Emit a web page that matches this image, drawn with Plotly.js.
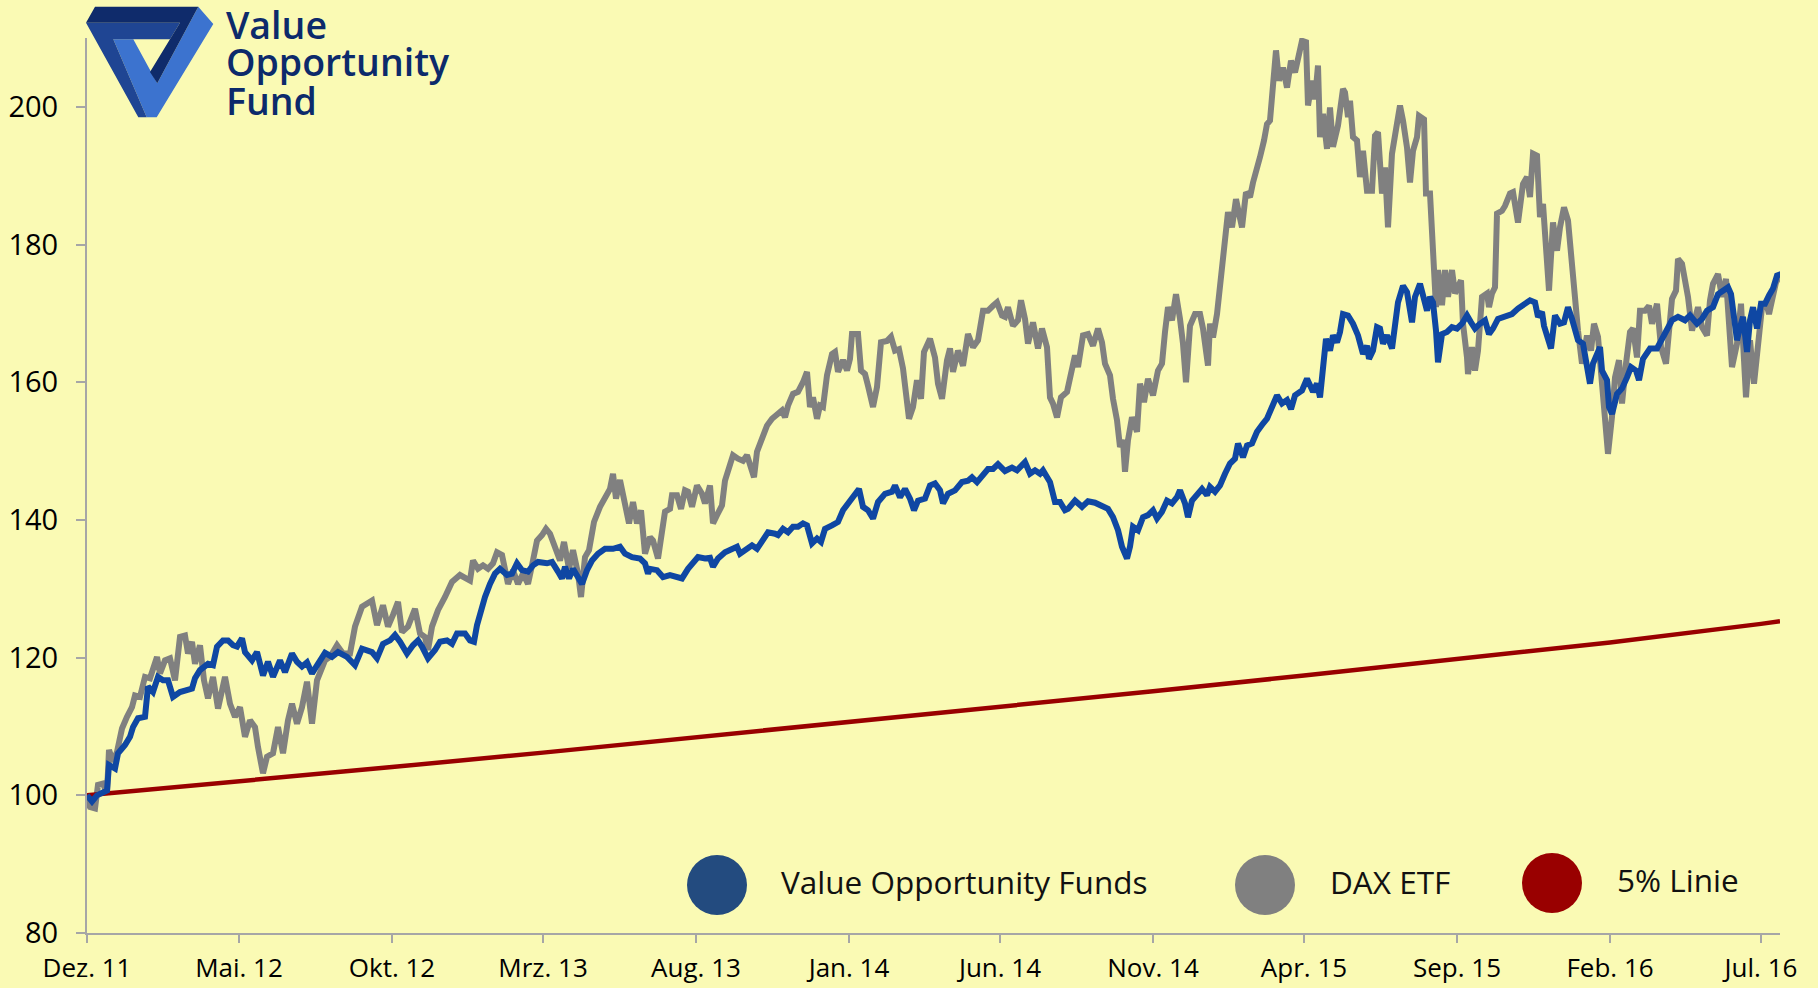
<!DOCTYPE html>
<html>
<head>
<meta charset="utf-8">
<script src="https://cdn.plot.ly/plotly-3.0.1.min.js"></script>
<style>
  html, body { margin: 0; padding: 0; background: #fafab4; }
  #chart { width: 1818px; height: 988px; }
</style>
</head>
<body>
<div id="chart"></div>
<script>
// ---- DATA (day offsets counted from the start date 2011-12-01) ----
const startDate = '2011-12-01';

const fundDays = [0,5,10,14,20,22,28,31,38,43,46,51,58,61,66,71,76,81,86,93,100,105,108,113,121,126,130,136,141,146,150,155,158,165,170,176,181,186,193,198,205,210,215,220,225,231,238,245,251,260,268,275,
285,290,296,303,308,313,320,326,331,335,341,348,353,360,365,370,378,383,387,390,395,398,403,408,413,420,425,430,435,441,446,451,460,465,471,475,478,482,486,491,495,500,505,511,518,526,533,538,545,553,558,561,
563,570,576,583,590,595,601,606,611,618,623,626,631,638,645,650,653,660,665,670,676,681,688,691,696,701,706,711,716,720,725,730,734,738,745,751,756,763,768,772,776,781,786,791,798,805,808,813,818,823,827,831,838,843,
848,853,856,861,868,875,881,885,890,896,901,906,911,918,925,930,938,943,948,953,956,963,968,973,978,981,988,995,1001,1008,1015,1021,1026,1031,1035,1040,1043,1046,1051,1056,1061,1066,1070,1075,1080,1085,1090,1093,1098,1101,1105,1110,1115,1120,1123,1128,
1133,1138,1143,1148,1151,1156,1160,1165,1170,1176,1180,1185,1190,1195,1200,1204,1208,1215,1220,1226,1230,1233,1236,1239,1243,1246,1250,1253,1256,1261,1266,1271,1276,1280,1282,1286,1290,1293,1296,1300,1305,1308,1311,1316,1320,1325,1328,1333,1337,1340,1343,1346,1349,1351,1355,1360,1365,1370,1375,1380,1384,1388,1393,1398,1402,1406,1411,1416,
1425,1431,1438,1443,1448,1451,1455,1457,1461,1464,1468,1473,1477,1481,1485,1488,1491,1496,1500,1503,1506,1510,1513,1515,1520,1522,1525,1530,1535,1540,1544,1549,1552,1556,1563,1570,1575,1580,1585,1591,1598,1603,1610,1615,1620,1626,1631,1636,1641,1644,1647,1650,1653,1656,1660,1663,1666,1670,1674,1678,1682,1686,1690,1694];

const fundValues = [100.0,99.1,100.0,100.3,100.7,104.4,103.9,106.1,107.3,108.5,109.9,111.2,111.4,115.8,115.0,117.2,116.7,116.7,114.3,115.0,115.3,115.5,117.0,118.2,119.1,118.9,121.6,122.5,122.5,121.8,121.6,122.8,120.8,119.6,120.8,117.4,119.4,117.2,119.6,117.9,120.6,119.4,118.7,119.3,117.7,119.1,120.7,120.1,120.8,120.1,118.9,121.3,
120.8,119.9,122.0,122.5,123.3,122.3,120.6,121.8,122.5,121.6,119.9,121.1,122.3,122.5,122.0,123.5,123.5,122.5,122.3,124.7,127.4,128.8,130.7,132.2,132.9,132.0,132.2,133.7,132.7,132.5,133.4,133.9,133.7,133.9,132.5,131.5,133.2,131.5,132.9,131.7,130.7,132.7,134.1,135.1,135.8,135.8,136.1,135.1,134.6,134.4,133.7,132.2,
132.9,132.7,131.7,132.0,131.7,131.5,132.9,133.9,134.6,134.4,134.5,133.2,134.4,135.3,135.8,136.1,135.1,135.8,136.3,135.8,137.0,138.2,138.0,137.8,138.7,138.2,139.0,139.0,139.5,139.2,136.6,137.3,136.8,138.7,139.2,139.7,141.4,142.8,143.6,144.5,141.9,141.4,140.2,142.6,143.8,144.1,145.0,143.3,144.5,143.1,141.4,142.8,143.1,145.0,
145.3,144.3,142.4,143.8,144.3,145.5,145.7,146.2,145.5,146.5,147.4,147.4,148.1,147.1,147.6,147.2,148.4,146.7,147.2,146.7,147.2,145.5,142.6,142.6,141.4,141.6,142.8,141.9,142.7,142.5,142.1,141.6,140.4,138.5,136.1,134.4,136.1,139.0,138.5,140.4,140.7,141.4,140.2,141.2,142.8,142.4,143.3,144.3,142.4,140.4,142.8,143.6,144.5,143.6,144.8,144.1,
145.0,146.7,148.2,148.9,151.1,149.1,150.8,151.1,152.8,154.0,154.7,156.4,158.1,156.9,157.4,156.1,158.1,158.8,160.5,158.6,159.8,157.8,161.2,166.3,164.6,166.8,165.8,167.3,169.9,169.7,168.5,166.8,164.1,165.3,163.4,164.6,168.0,167.8,165.6,166.8,164.9,168.5,171.6,174.0,173.1,168.7,172.4,174.3,172.4,170.4,172.4,171.6,167.5,162.9,167.0,167.3,168.0,167.8,168.5,169.7,168.7,167.8,168.5,169.0,167.0,167.8,169.2,169.5,
169.9,170.7,171.4,171.9,171.6,169.5,170.2,168.2,166.3,164.9,169.7,168.5,168.7,170.9,169.2,167.5,166.1,165.6,161.7,159.8,162.7,163.9,165.1,161.7,160.3,156.4,155.4,158.3,159.1,160.7,162.2,161.7,160.3,163.4,164.9,164.9,166.3,167.3,169.0,169.5,169.0,169.7,168.5,169.2,170.4,170.9,172.8,173.3,173.8,172.8,168.5,166.1,168.0,169.5,164.4,169.0,170.9,167.8,171.4,171.4,172.6,173.6,175.5,175.7];

const daxDays = [0,3,8,11,16,20,22,26,30,35,40,45,48,53,58,63,70,73,78,83,88,93,98,101,105,108,113,117,121,126,131,138,143,148,153,158,163,168,171,176,180,186,191,196,201,205,210,215,220,225,230,235,238,243,250,256,263,268,275,
285,290,296,301,306,311,315,321,328,333,338,341,345,351,358,365,373,378,383,386,391,396,401,406,410,415,418,421,426,431,436,441,445,450,455,459,463,468,473,477,482,486,491,494,498,502,507,513,518,523,526,529,533,537,542,546,550,554,558,
563,566,571,575,578,583,585,590,594,598,601,605,610,615,618,623,626,630,635,638,643,646,651,656,660,663,667,670,675,680,685,690,695,698,701,706,711,716,720,723,726,730,733,736,740,745,748,751,756,760,763,765,771,774,778,781,786,790,794,800,804,808,812,816,819,822,826,830,834,837,843,
848,851,855,860,863,866,871,876,881,886,891,896,901,906,910,915,918,921,926,931,934,938,941,946,951,955,960,963,966,970,974,980,983,988,991,996,1001,1006,1011,1015,1018,1023,1026,1030,1033,1036,1038,1041,1045,1050,1053,1057,1061,1066,1071,1075,1078,1081,1085,1089,1093,1096,1099,1103,1108,1113,1116,1121,1123,1126,1130,
1133,1136,1138,1141,1145,1149,1152,1155,1159,1163,1166,1170,1173,1177,1180,1183,1186,1189,1192,1196,1200,1204,1208,1211,1215,1219,1221,1225,1228,1231,1233,1236,1240,1243,1246,1251,1256,1258,1261,1263,1266,1270,1273,1276,1280,1285,1288,1291,1295,1298,1301,1305,1310,1313,1316,1320,1323,1326,1330,1332,1337,1339,1343,1346,1349,1351,1355,1358,1361,1365,1368,1374,1376,1380,1381,1385,1388,1391,1395,1400,1402,1405,1408,1410,1415,
1418,1423,1426,1431,1436,1440,1443,1446,1450,1453,1456,1460,1462,1466,1470,1473,1477,1481,1485,1488,1491,1495,1500,1504,1507,1511,1514,1518,1521,1525,1528,1532,1535,1539,1543,1546,1550,1553,1558,1562,1565,1570,1574,1579,1582,1585,1589,1591,1595,1598,1601,1605,1608,1611,1615,1620,1623,1626,1631,1635,1639,1642,1645,1650,1654,1659,1663,1667,1671,1675,1679,1682,1685,1689,1693];

const daxValues = [99.3,98.3,98.1,101.5,101.7,100.3,106.6,104.9,106.3,109.7,111.4,112.8,114.5,114.3,117.2,117.0,120.1,117.7,119.6,119.9,116.7,123.0,123.2,120.6,122.3,119.1,121.8,116.7,114.1,117.2,112.6,117.2,113.3,111.4,112.8,108.5,110.9,109.9,107.0,103.2,105.6,106.1,109.9,106.1,110.9,113.3,110.4,112.8,116.5,110.4,116.7,118.7,119.6,120.1,121.8,120.6,120.6,124.5,127.4,
128.3,124.7,127.6,124.5,126.2,128.1,123.7,124.5,127.1,123.5,123.0,121.1,124.5,126.9,128.8,131.0,132.0,131.5,131.2,134.1,132.9,133.4,132.9,133.7,135.3,134.9,133.2,130.7,132.7,130.7,132.2,130.7,133.4,137.0,137.8,138.7,138.0,136.1,134.1,136.8,132.9,135.6,132.2,128.8,134.6,135.6,139.7,141.9,143.1,144.5,146.7,143.1,145.8,143.3,139.5,142.6,139.5,141.4,135.1,
137.5,137.0,134.4,138.5,141.2,141.6,143.6,143.6,141.6,144.3,144.1,141.9,145.0,143.8,142.4,145.0,139.5,140.7,142.1,145.7,147.7,149.4,148.9,148.6,149.4,147.7,146.2,149.9,151.8,153.7,154.7,155.2,155.9,154.9,156.6,158.3,158.6,160.0,161.5,156.4,157.8,154.7,156.6,156.4,161.0,164.1,164.4,161.5,163.2,161.7,163.4,167.0,167.0,161.7,161.2,159.5,156.4,159.3,165.8,166.0,166.6,164.6,164.8,162.0,158.8,154.7,156.4,160.3,157.6,164.4,166.3,
163.6,159.8,157.6,163.2,164.9,161.5,164.6,162.4,167.0,165.1,166.1,170.4,170.4,171.1,171.6,169.7,169.5,170.9,168.2,169.0,171.9,169.2,165.6,168.7,164.9,167.8,165.1,157.8,156.9,154.9,157.8,158.6,161.0,163.9,162.2,166.8,167.0,165.3,167.8,165.8,162.7,161.0,157.6,154.5,150.6,151.6,147.0,151.6,154.9,152.8,159.8,157.1,160.5,158.1,161.7,162.7,167.3,170.9,169.0,172.8,169.2,165.6,160.0,168.2,169.9,169.9,167.8,162.4,168.5,166.5,169.9,
174.3,177.2,182.0,184.7,182.5,186.6,184.5,182.5,187.6,186.9,189.0,191.7,192.7,195.1,197.5,198.0,202.4,208.2,203.8,205.7,202.8,206.7,205.0,207.4,209.6,209.4,200.2,203.8,201.1,206.0,195.6,199.0,193.9,199.9,194.2,197.3,202.6,202.1,198.5,200.9,195.6,195.1,189.8,193.6,187.8,187.8,195.8,196.3,187.4,191.2,182.5,193.2,198.2,200.2,198.0,194.1,189.0,193.6,195.6,198.7,198.2,187.4,187.4,178.2,170.9,176.3,171.2,176.3,172.4,176.3,172.9,174.8,168.5,163.6,161.2,165.1,161.7,164.6,172.4,172.9,170.9,172.9,173.8,184.5,184.9,
185.6,187.4,187.6,183.2,188.8,189.8,186.9,193.2,192.9,184.0,185.9,179.1,173.3,183.2,179.1,182.5,185.4,183.5,176.7,170.4,167.5,162.7,166.8,164.6,168.5,166.6,160.7,153.5,149.6,155.0,160.7,163.2,156.9,162.7,167.3,167.8,163.6,170.4,170.4,171.1,168.5,171.4,165.1,162.7,168.0,172.1,173.3,177.9,177.2,175.0,172.4,167.5,169.5,170.9,168.0,166.8,171.9,174.3,175.7,172.4,175.0,168.5,162.2,165.6,171.4,157.8,166.1,159.8,166.6,170.9,171.6,169.9,171.9,174.5,175.5];

// 5% line, read at each tick month and at the end of the axis
const lineDays = [0,152,305,456,609,762,913,1066,1217,1370,1523,1674,1693];
const lineValues = [100.0,102.0,104.1,106.2,108.4,110.6,112.8,115.1,117.4,119.8,122.2,124.9,125.3];

const tickDays = [0,152,305,456,609,762,913,1066,1217,1370,1523,1674];
const tickLabels = ['Dez. 11','Mai. 12','Okt. 12','Mrz. 13','Aug. 13','Jan. 14','Jun. 14','Nov. 14','Apr. 15','Sep. 15','Feb. 16','Jul. 16'];
const axisEndDay = 1693;

const yTicks = [80,100,120,140,160,180,200];
const yRange = [80,210];

const seriesNames = ['Value Opportunity Funds','DAX ETF','5% Linie'];
const logoLines = ['Value','Opportunity','Fund'];

// ---- helpers ----
const t0 = Date.parse(startDate + 'T00:00:00Z');
function dayToDate(d) {
  return new Date(t0 + d * 86400000).toISOString().slice(0, 19).replace('T', ' ');
}

const W = 1818, H = 988;
const M = {l: 87, r: 38, t: 38, b: 55};
const PW = W - M.l - M.r, PH = H - M.t - M.b;
function px(X) { return (X - M.l) / PW; }
function py(Y) { return (H - M.b - Y) / PH; }
function pathFrom(pts) {
  return 'M ' + pts.map(p => px(p[0]).toFixed(5) + ',' + py(p[1]).toFixed(5)).join(' L ') + ' Z';
}

const BG = '#fafab4';
const FUND_C = '#0f47a3';
const DAX_C = '#808080';
const LINE_C = '#990000';

const traces = [
  {
    x: daxDays.map(dayToDate), y: daxValues, name: seriesNames[1],
    type: 'scatter', mode: 'lines', line: {color: DAX_C, width: 6}, hoverinfo: 'skip'
  },
  {
    x: lineDays.map(dayToDate), y: lineValues, name: seriesNames[2],
    type: 'scatter', mode: 'lines', line: {color: LINE_C, width: 4.5}, hoverinfo: 'skip'
  },
  {
    x: fundDays.map(dayToDate), y: fundValues, name: seriesNames[0],
    type: 'scatter', mode: 'lines', line: {color: FUND_C, width: 6}, hoverinfo: 'skip'
  }
];

// logo polygons (pixel coordinates of the page)
const logoLight = [[113.3,39.3],[133.3,39.3],[157.3,83.3],[198.3,6.7],[213.3,24],[156.7,117.3],[146.7,117.3]];
const logoMid = [[86,22.7],[180,22.7],[170,39.3],[113.3,39.3],[146.7,117.3],[138.3,117.3]];
const logoNavy = [[86,22.7],[95,6.7],[198.3,6.7],[157.3,83.3],[150,72],[180,22.7]];

const shapes = [
  {type:'path', xref:'paper', yref:'paper', path: pathFrom(logoLight), fillcolor:'#3c73cf', line:{width:0}, layer:'above'},
  {type:'path', xref:'paper', yref:'paper', path: pathFrom(logoMid), fillcolor:'#1f4593', line:{width:0}, layer:'above'},
  {type:'path', xref:'paper', yref:'paper', path: pathFrom(logoNavy), fillcolor:'#0f2b6b', line:{width:0}, layer:'above'}
];

// legend markers
const legendItems = [
  {cx: 717, cy: 885, color: '#234b7f', tx: 779, name: seriesNames[0]},
  {cx: 1265, cy: 885, color: '#808080', tx: 1328, name: seriesNames[1]},
  {cx: 1552, cy: 883, color: '#990000', tx: 1615, name: seriesNames[2]}
];
const R = 30;
legendItems.forEach(it => {
  shapes.push({type:'circle', xref:'paper', yref:'paper',
    x0: px(it.cx - R), x1: px(it.cx + R), y0: py(it.cy + R), y1: py(it.cy - R),
    fillcolor: it.color, line:{width:0}, layer:'above'});
});

const annotations = legendItems.map(it => ({
  xref:'paper', yref:'paper', x: px(it.tx), y: py(it.cy - 4), xanchor:'left', yanchor:'middle',
  text: it.name, showarrow:false, font:{family:'Open Sans', size:31.5, color:'#111111'}
}));

const logoCenters = [25, 62, 101];
logoLines.forEach((t, i) => {
  annotations.push({xref:'paper', yref:'paper', x: px(224), y: py(logoCenters[i]),
    xanchor:'left', yanchor:'middle', text: t, showarrow:false,
    font:{family:'Open Sans', size:37.5, color:'#0c2a6b', weight:600}});
});

const layout = {
  width: W, height: H,
  margin: M,
  paper_bgcolor: BG, plot_bgcolor: BG,
  showlegend: false,
  hovermode: false,
  xaxis: {
    type:'date', range:[dayToDate(0), dayToDate(axisEndDay)],
    tickmode:'array', tickvals: tickDays.map(dayToDate), ticktext: tickLabels,
    showgrid:false, zeroline:false, showline:true, linecolor:'#a6a6a6', linewidth:2,
    ticks:'outside', ticklen:8, tickwidth:2, tickcolor:'#a6a6a6',
    ticklabelstandoff: 3,
    tickfont:{family:'Open Sans', size:26, color:'#000000'}
  },
  yaxis: {
    range: yRange, tickmode:'array', tickvals: yTicks,
    showgrid:false, zeroline:false, showline:true, linecolor:'#a6a6a6', linewidth:2,
    ticks:'outside', ticklen:9, tickwidth:2, tickcolor:'#a6a6a6',
    ticklabelstandoff: 12,
    tickfont:{family:'Open Sans', size:29, color:'#000000'}
  },
  shapes: shapes,
  annotations: annotations
};

Plotly.newPlot('chart', traces, layout, {displayModeBar:false, staticPlot:true});
</script>
</body>
</html>
